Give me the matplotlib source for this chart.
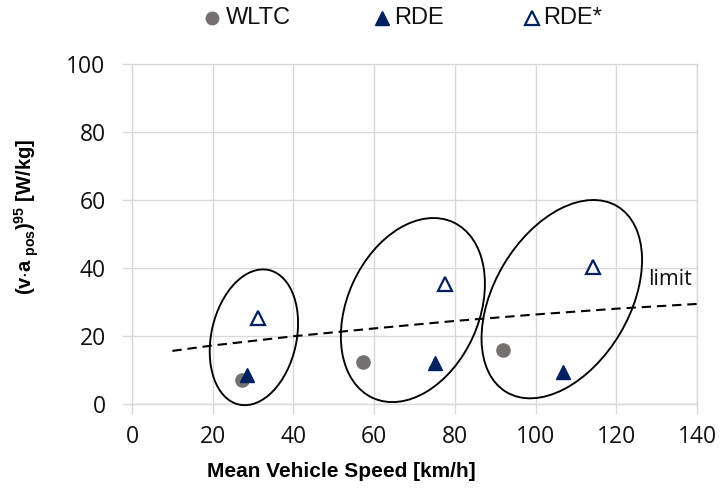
import matplotlib
matplotlib.use("Agg")
import matplotlib.pyplot as plt
from matplotlib.patches import Ellipse
from matplotlib.lines import Line2D
from matplotlib.transforms import ScaledTranslation

# --- data -------------------------------------------------------------
wltc_speed = [27.3, 57.3, 91.9]
wltc_power = [7.1, 12.3, 15.9]

rde_speed = [28.4, 75.2, 106.9]
rde_power = [8.4, 12.1, 9.4]

rde_star_speed = [31.2, 77.5, 114.2]
rde_star_power = [25.3, 35.2, 40.2]

limit_speed = [10, 20, 40, 60, 80, 100, 120, 140]
limit_power = [15.6, 17.2, 19.9, 22.2, 24.4, 26.3, 28.0, 29.4]

x_ticks = [0, 20, 40, 60, 80, 100, 120, 140]
y_ticks = [0, 20, 40, 60, 80, 100]

# group outlines: centre (data), semi-axes (px), tilt (deg)
groups = [
    ((30.2, 19.6), 68.9, 42.6, 77.5),
    ((69.6, 27.6), 96.6, 65.8, 65.5),
    ((106.5, 30.8), 108.2, 67.6, 59.2),
]

NAVY = "#002060"
GREY = "#767171"
GRID = "#d9d9d9"

plt.rcParams["mathtext.fontset"] = "custom"
plt.rcParams["mathtext.rm"] = "Liberation Sans"
plt.rcParams["mathtext.bf"] = "Liberation Sans:bold"

fig = plt.figure(figsize=(7.21, 4.90), dpi=100)
ax = fig.add_axes([0.1831, 0.1755, 0.9667 - 0.1831, 0.8702 - 0.1755])

ax.set_xlim(0, 140)
ax.set_ylim(0, 100)
ax.set_xticks(x_ticks)
ax.set_yticks(y_ticks)
ax.grid(True, color=GRID, linewidth=1.0)
ax.set_axisbelow(True)
for s in ax.spines.values():
    s.set_color(GRID)
    s.set_linewidth(1.0)
ax.tick_params(axis="both", direction="out", length=7, width=1.0, color=GRID,
               labelsize=16.5, labelcolor="#111111")
ax.tick_params(axis="x", pad=8)
ax.tick_params(axis="y", pad=12)
for lab in ax.get_xticklabels() + ax.get_yticklabels():
    lab.set_fontfamily("Open Sans")

# ellipses drawn in pixel units around a data-space centre
for (cx, cy), a, b, ang in groups:
    tr = fig.dpi_scale_trans + ScaledTranslation(cx, cy, ax.transData)
    e = Ellipse((0, 0), 2 * a / 100, 2 * b / 100, angle=ang, transform=tr,
                fill=False, edgecolor="black", linewidth=1.35, clip_on=False,
                zorder=3)
    ax.add_patch(e)

ax.plot(limit_speed, limit_power, color="black", linewidth=1.5,
        linestyle=(0, (4.5, 2.8)), zorder=4)
ax.text(133.3, 35.0, "limit", fontsize=15.5, family="Open Sans",
        ha="center", va="baseline", color="#111111")

ax.plot(wltc_speed, wltc_power, linestyle="none", marker="o", markersize=9.5,
        color=GREY, zorder=5)
ax.plot(rde_speed, rde_power, linestyle="none", marker="^", markersize=10,
        color=NAVY, zorder=6)
ax.plot(rde_star_speed, rde_star_power, linestyle="none", marker="^",
        markersize=9.5, markerfacecolor="white", markeredgecolor=NAVY,
        markeredgewidth=1.6, zorder=6)

# axis titles
fig.text(0.474, 0.037, "Mean Vehicle Speed [km/h]", fontsize=15,
         fontweight="bold", family="Liberation Sans", ha="center", va="center")
fig.text(0.037, 1 - 217 / 490,
         r"$\mathbf{(v{\cdot}a}_{\ \mathbf{pos}}\mathbf{)}^{\mathbf{95}}$ [W/kg]",
         fontsize=14.5, fontweight="bold", family="Liberation Sans",
         rotation=90, ha="center", va="center")

# legend row
leg_y = 1 - 17.7 / 490
entries = [
    (212.5, 226, "WLTC", dict(marker="o", markersize=9, color=GREY)),
    (382, 394, "RDE", dict(marker="^", markersize=10, color=NAVY)),
    (531.5, 543, "RDE*", dict(marker="^", markersize=9.5, markerfacecolor="white",
                               markeredgecolor=NAVY, markeredgewidth=1.6)),
]
for mx, tx, label, style in entries:
    fig.add_artist(Line2D([mx / 721], [leg_y], transform=fig.transFigure,
                          linestyle="none", **style))
    fig.text(tx / 721, leg_y, label, fontsize=17, family="Liberation Sans",
             ha="left", va="center", color="#111111")

fig.savefig("out.png", dpi=100)
